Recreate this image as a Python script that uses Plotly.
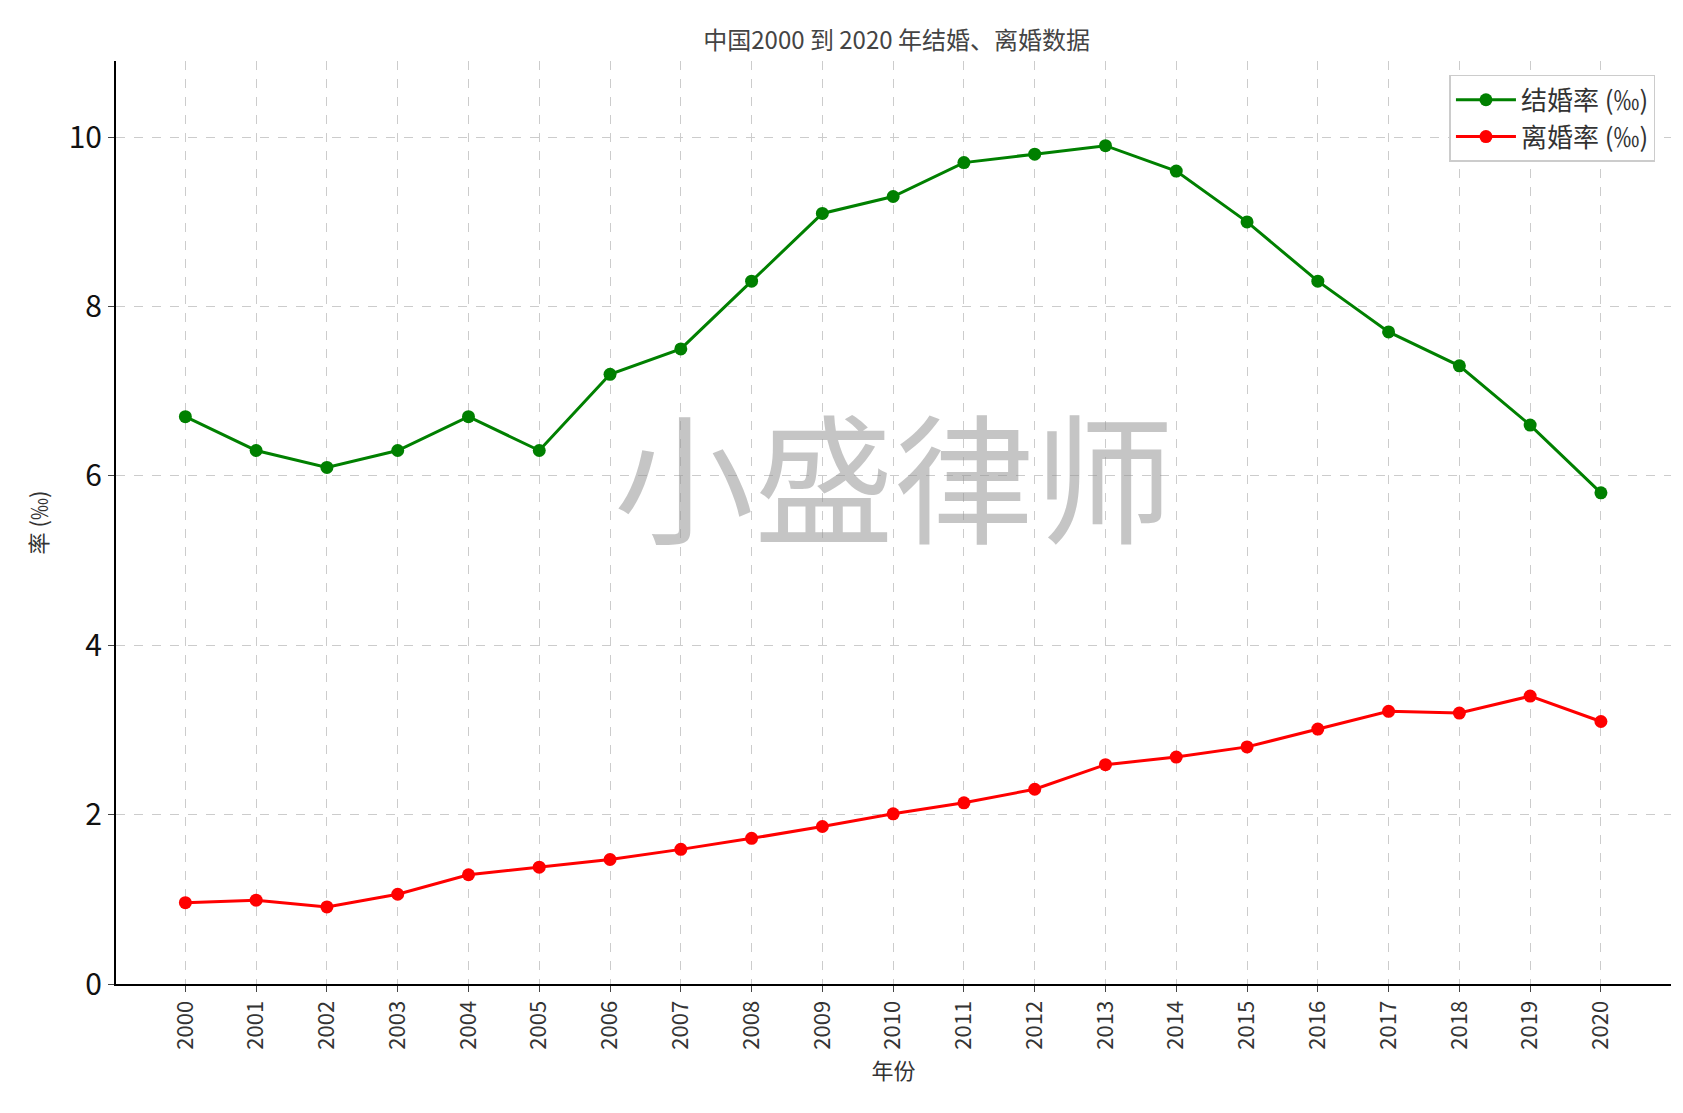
import plotly.graph_objs as go

years = list(range(2000, 2021))
marriage = [6.7, 6.3, 6.1, 6.3, 6.7, 6.3, 7.2, 7.5, 8.3, 9.1, 9.3, 9.7, 9.8, 9.9, 9.6, 9.0, 8.3, 7.7, 7.3, 6.6, 5.8]
divorce = [0.96, 0.99, 0.91, 1.06, 1.29, 1.38, 1.47, 1.59, 1.72, 1.86, 2.01, 2.14, 2.30, 2.59, 2.68, 2.80, 3.01, 3.22, 3.20, 3.40, 3.10]

FONT = "Noto Sans CJK SC"

fig = go.Figure()
fig.add_trace(go.Scatter(x=years, y=marriage, mode='lines+markers', name='结婚率 (‰)',
                         line=dict(color='green', width=3), marker=dict(size=13, color='green')))
fig.add_trace(go.Scatter(x=years, y=divorce, mode='lines+markers', name='离婚率 (‰)',
                         line=dict(color='red', width=3), marker=dict(size=13, color='red')))

fig.add_annotation(text='小盛律师', x=0.5, y=0.555, xref='paper', yref='paper', showarrow=False,
                   font=dict(size=140, color='rgba(150,150,150,0.55)', family=FONT))

fig.update_layout(
    width=1683, height=1113, plot_bgcolor='white', paper_bgcolor='white',
    margin=dict(l=108, r=20, t=53, b=137),
    font=dict(family=FONT, color='#333'),
    title=dict(text='中国2000 到 2020 年结婚、离婚数据', x=0.528, y=0.978, xanchor='center',
               font=dict(size=24, color='#444')),
    legend=dict(x=0.99, y=0.985, xanchor='right', yanchor='top', bordercolor='#ccc', borderwidth=1.5,
                bgcolor='white', font=dict(size=26, color='#333'), itemwidth=60),
    showlegend=True,
)
fig.update_xaxes(range=[1999.02, 2020.99], tickvals=years, ticktext=[str(y) for y in years],
                 tickangle=-90, tickfont=dict(size=22), showgrid=True, gridcolor='#ccc', griddash='dash',
                 showline=True, linecolor='black', linewidth=2, ticks='outside', ticklen=6,
                 title=dict(text='年份', font=dict(size=22)), zeroline=False)
fig.update_yaxes(range=[0, 10.9], tickvals=[0, 2, 4, 6, 8, 10], tickfont=dict(size=30, color='#111'),
                 showgrid=True, gridcolor='#ccc', griddash='dash', showline=True, linecolor='black',
                 linewidth=2, ticks='outside', ticklen=6, zeroline=False,
                 title=dict(text='率 (‰)', font=dict(size=22)))

fig.write_html("out.html")
